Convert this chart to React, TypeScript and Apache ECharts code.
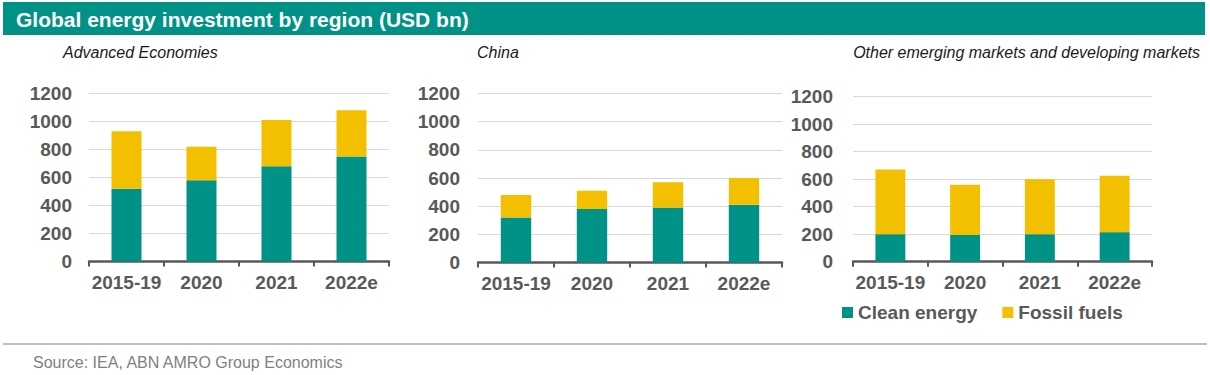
import React, { useEffect, useRef } from "react";
import * as echarts from "echarts";

const categories = ["2015-19", "2020", "2021", "2022e"];
const yTicks = [0, 200, 400, 600, 800, 1000, 1200];

const advancedClean = [520, 580, 680, 750];
const advancedFossil = [410, 240, 330, 330];
const chinaClean = [320, 380, 390, 410];
const chinaFossil = [160, 130, 180, 190];
const otherClean = [200, 195, 200, 215];
const otherFossil = [470, 365, 400, 410];

const panelTitles = [
  "Advanced Economies",
  "China",
  "Other emerging markets and developing markets",
];
const seriesNames = ["Clean energy", "Fossil fuels"];
const mainTitle = "Global energy investment by region (USD bn)";
const sourceText = "Source: IEA, ABN AMRO Group Economics";

const GREEN = "#009286";
const YELLOW = "#F3C000";
const GRAY = "#595959";
const FONT = "Liberation Sans, Arial, sans-serif";

export default function App() {
  const ref = useRef<HTMLDivElement>(null);
  useEffect(() => {
    if (!ref.current) return;
    const chart = echarts.init(ref.current, undefined, { renderer: "svg" });
    const grids = [
      { left: 89, top: 93.5, width: 300, height: 168 },
      { left: 478, top: 93.5, width: 304, height: 169 },
      { left: 853, top: 96.7, width: 299, height: 165 },
    ];
    const data = [
      [advancedClean, advancedFossil],
      [chinaClean, chinaFossil],
      [otherClean, otherFossil],
    ];
    const labelMargins = [17, 18, 20];
    const option: any = {
      animation: false,
      textStyle: { fontFamily: FONT },
      grid: grids.map((g) => ({ ...g, containLabel: false })),
      xAxis: grids.map((_, i) => ({
        type: "category",
        gridIndex: i,
        data: categories,
        axisLine: { show: true, lineStyle: { color: GRAY, width: 2.5 } },
        axisTick: { show: true, length: 5, lineStyle: { color: GRAY, width: 2 } },
        axisLabel: {
          interval: 0,
          color: GRAY,
          fontSize: 19,
          fontWeight: "bold",
          fontFamily: FONT,
          margin: 11,
        },
      })),
      yAxis: grids.map((_, i) => ({
        type: "value",
        gridIndex: i,
        min: yTicks[0],
        max: yTicks[yTicks.length - 1],
        interval: 200,
        axisLine: { show: false },
        axisTick: { show: false },
        splitLine: { lineStyle: { color: "#D9D9D9", width: 1.2 } },
        axisLabel: {
          color: GRAY,
          fontSize: 19,
          fontWeight: "bold",
          fontFamily: FONT,
          margin: labelMargins[i],
          formatter: (v: number) => String(v),
        },
      })),
      legend: {
        left: 842,
        top: 303,
        padding: 0,
        itemWidth: 11,
        itemHeight: 11,
        itemGap: 25,
        icon: "rect",
        data: seriesNames,
        textStyle: {
          color: GRAY,
          fontSize: 19,
          fontWeight: "bold",
          fontFamily: FONT,
        },
      },
      series: data.flatMap((pair, i) =>
        pair.map((vals, j) => ({
          type: "bar",
          name: seriesNames[j],
          xAxisIndex: i,
          yAxisIndex: i,
          stack: "s" + i,
          barWidth: "40%",
          data: vals,
          itemStyle: { color: j === 0 ? GREEN : YELLOW },
        }))
      ),
      graphic: [
        {
          type: "rect",
          shape: { x: 3, y: 2, width: 1202, height: 33 },
          style: { fill: GREEN },
          silent: true,
        },
        {
          type: "text",
          x: 16,
          y: 19,
          style: {
            text: mainTitle,
            fill: "#ffffff",
            font: `bold 21px ${FONT}`,
            verticalAlign: "middle",
          },
        },
        {
          type: "text",
          x: 63,
          y: 52,
          style: {
            text: panelTitles[0],
            fill: "#1a1a1a",
            font: `italic 16px ${FONT}`,
            verticalAlign: "middle",
          },
        },
        {
          type: "text",
          x: 477,
          y: 52,
          style: {
            text: panelTitles[1],
            fill: "#1a1a1a",
            font: `italic 16px ${FONT}`,
            verticalAlign: "middle",
          },
        },
        {
          type: "text",
          x: 1200,
          y: 52,
          style: {
            text: panelTitles[2],
            fill: "#1a1a1a",
            font: `italic 16px ${FONT}`,
            verticalAlign: "middle",
            align: "right",
          },
        },
        {
          type: "line",
          shape: { x1: 3, y1: 344, x2: 1207, y2: 344 },
          style: { stroke: "#BFBFBF", lineWidth: 2 },
        },
        {
          type: "text",
          x: 33,
          y: 362,
          style: {
            text: sourceText,
            fill: "#7F7F7F",
            font: `16px ${FONT}`,
            verticalAlign: "middle",
          },
        },
      ],
    };
    chart.setOption(option);
    return () => chart.dispose();
  }, []);
  return (
    <div
      ref={ref}
      style={{ position: "fixed", left: 0, top: 0, width: 1210, height: 375, background: "#fff" }}
    />
  );
}
